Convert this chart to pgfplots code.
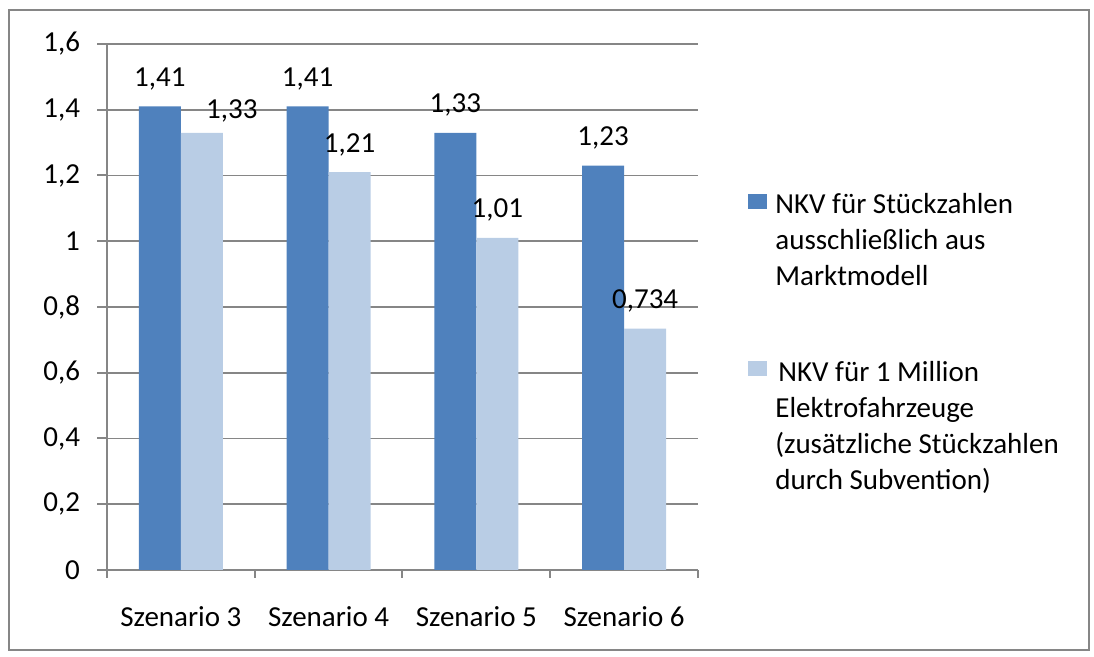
\documentclass[border=0pt]{standalone}
\usepackage{fontspec}
\setmainfont{Carlito}
\usepackage{pgfplots}
\pgfplotsset{compat=1.18}
\usepackage{pgfplotstable}
\definecolor{dark}{HTML}{4F81BD}
\definecolor{light}{HTML}{B9CDE5}
\definecolor{gridc}{HTML}{868686}

\pgfplotstableread{
x y lab
0 1.41 1,41
1 1.41 1,41
2 1.33 1,33
3 1.23 1,23
}\tA
\pgfplotstableread{
x y lab
0 1.33 \hspace*{30pt}\raisebox{-3pt}{1,33}
1 1.21 1,21
2 1.01 1,01
3 0.734 0,734
}\tB

\newcommand{\entryA}{\parbox[t]{150pt}{\raggedright\fontsize{14.5}{18}\selectfont NKV für Stückzahlen\\ausschließlich aus\\Marktmodell}}
\newcommand{\entryB}{\parbox[t]{150pt}{\raggedright\fontsize{14.5}{18}\selectfont \hspace*{1.5pt}NKV für 1 Million\\Elektrofahrzeuge\\(zusätzliche Stückzahlen\\durch Subvention)}}

\begin{document}
\fontsize{14.5}{18}\selectfont
\begin{tikzpicture}
\draw[gridc, line width=0.9pt] (4.5pt,3.5pt) rectangle (544.5pt,323.5pt);
\begin{axis}[
  at={(53.5pt,43.5pt)}, anchor=south west,
  scale only axis, width=295.5pt, height=263pt,
  xmin=-0.5, xmax=3.5, ymin=0, ymax=1.6,
  ybar=0pt, bar width=21pt,
  axis x line*=bottom, axis y line*=left,
  axis line style={draw=gridc, line width=1pt},
  ytick={0,0.2,0.4,0.6,0.8,1,1.2,1.4,1.6},
  ymajorgrids, grid style={draw=gridc, line width=0.9pt},
  yticklabel style={anchor=east, xshift=-3.5pt, /pgf/number format/use comma, /pgf/number format/fixed, /pgf/number format/precision=1, /pgf/number format/assume math mode=true},
  ytick style={draw=gridc, line width=1pt},
  tick align=outside, major tick length=5pt,
  xtick={0,1,2,3},
  xticklabels={Szenario 3,Szenario 4,Szenario 5,Szenario 6},
  xtick style={draw=none},
  extra x ticks={-0.5,0.5,1.5,2.5,3.5},
  extra x tick labels={},
  extra x tick style={xtick style={draw=gridc, line width=1pt}, major tick length=4pt},
  xticklabel style={anchor=base, yshift=-23.5pt},
  point meta=explicit symbolic,
  nodes near coords,
  nodes near coords style={anchor=base, yshift=10pt, text=black},
  legend style={at={(1.0846,0.7167)}, anchor=north west, draw=none, fill=none,
    inner sep=0pt, column sep=4pt, row sep=71.5pt,
    cells={anchor=base west},
    nodes={inner sep=0pt}},
  legend image code/.code={\fill[#1] (0pt,2.5pt) rectangle (9.5pt,10pt);},
]
\addplot[fill=dark, draw=none] table[x=x, y=y, meta=lab] {\tA};
\addlegendentry{\entryA}
\addplot[fill=light, draw=none] table[x=x, y=y, meta=lab] {\tB};
\addlegendentry{\entryB}
\end{axis}
\useasboundingbox (0,0) rectangle (547pt,328.5pt);
\end{tikzpicture}
\end{document}
